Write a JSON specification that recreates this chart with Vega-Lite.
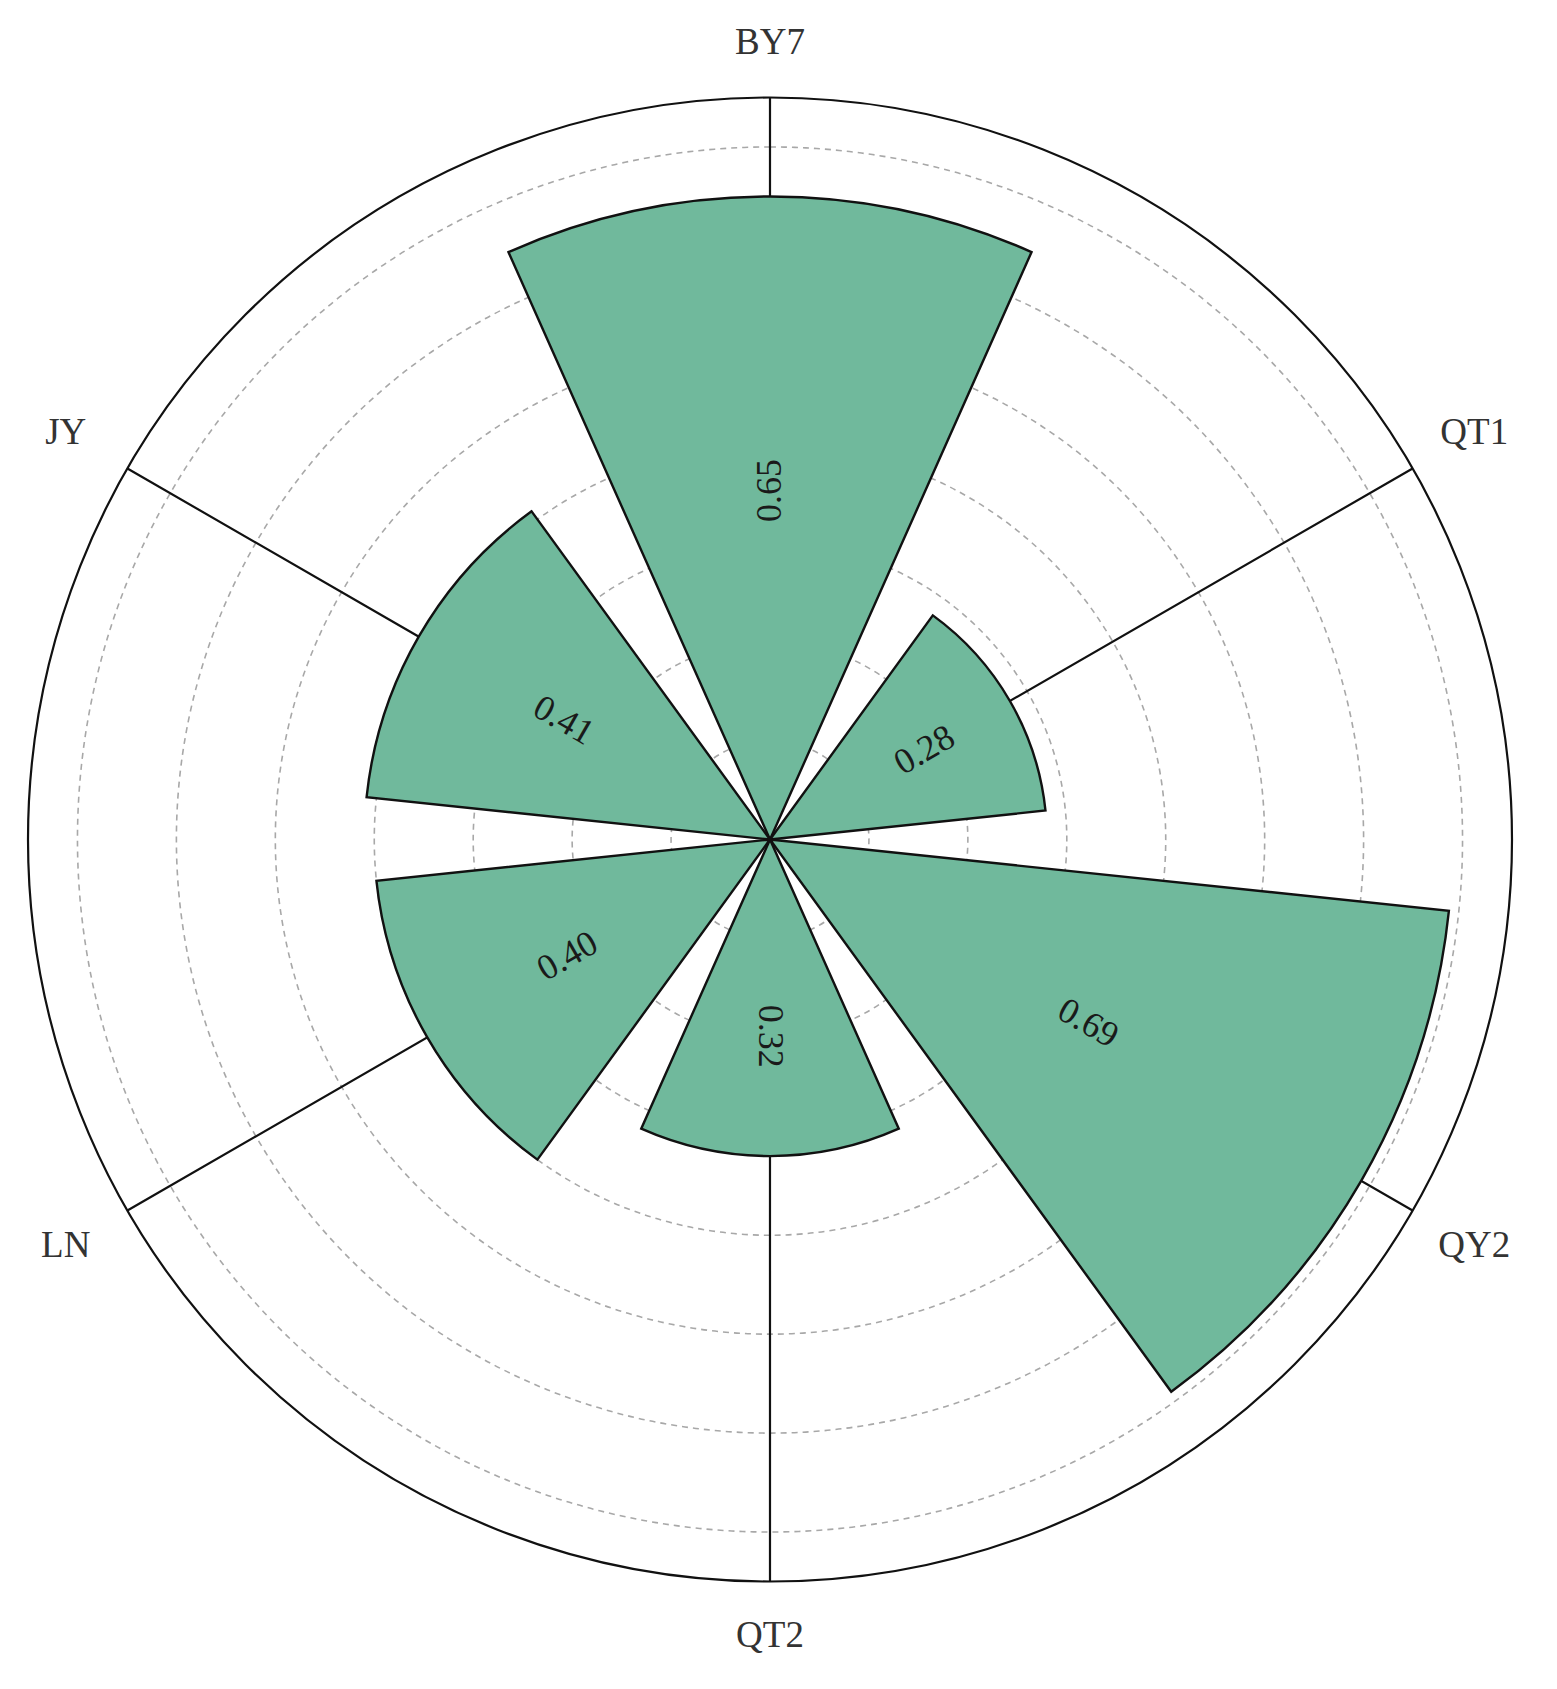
{
  "$schema": "https://vega.github.io/schema/vega-lite/v6.json",
  "width": 1540,
  "height": 1679,
  "padding": 0,
  "autosize": "none",
  "background": "white",
  "config": {"view": {"stroke": null}},
  "data": {"values": [
    {"cat": "BY7", "value": 0.65},
    {"cat": "QT1", "value": 0.28},
    {"cat": "QY2", "value": 0.69},
    {"cat": "QT2", "value": 0.32},
    {"cat": "LN", "value": 0.40},
    {"cat": "JY", "value": 0.41}
  ]},
  "resolve": {"scale": {"theta": "independent", "radius": "independent", "angle": "independent"}},
  "layer": [
    {
      "data": {"values": [{"level": 0.1}, {"level": 0.2}, {"level": 0.3}, {"level": 0.4}, {"level": 0.5}, {"level": 0.6}, {"level": 0.7}]},
      "mark": {"type": "arc", "theta": 0, "theta2": 6.2832, "filled": false, "stroke": "#a8a8a8", "strokeWidth": 1.6, "strokeDash": [6, 5]},
      "encoding": {
        "radius": {"field": "level", "type": "quantitative", "stack": null, "scale": {"type": "linear", "domain": [0, 0.75], "range": [0, 742], "zero": true, "nice": false}}
      }
    },
    {
      "mark": {"type": "arc", "filled": false, "stroke": "#111111", "strokeWidth": 2.2},
      "encoding": {
        "theta": {"field": "cat", "type": "nominal", "sort": null, "scale": {"type": "band", "domain": ["BY7", "QT1", "QY2", "QT2", "LN", "JY"], "range": [-0.5236, 5.7596], "paddingInner": 1, "paddingOuter": 0.5}},
        "radius": {"datum": 0.75, "scale": {"type": "linear", "domain": [0, 0.75], "range": [0, 742], "zero": true, "nice": false}}
      }
    },
    {
      "data": {"values": [{"level": 0.75}]},
      "mark": {"type": "arc", "theta": 0, "theta2": 6.2832, "filled": false, "stroke": "#111111", "strokeWidth": 2.2},
      "encoding": {
        "radius": {"field": "level", "type": "quantitative", "stack": null, "scale": {"type": "linear", "domain": [0, 0.75], "range": [0, 742], "zero": true, "nice": false}}
      }
    },
    {
      "mark": {"type": "arc", "fill": "#70b99c", "stroke": "#111111", "strokeWidth": 2.4, "strokeJoin": "miter"},
      "encoding": {
        "theta": {"field": "cat", "type": "nominal", "sort": null, "scale": {"type": "band", "domain": ["BY7", "QT1", "QY2", "QT2", "LN", "JY"], "range": [-0.5236, 5.7596], "paddingInner": 0.2, "paddingOuter": 0.1}},
        "radius": {"field": "value", "type": "quantitative", "stack": null, "scale": {"type": "linear", "domain": [0, 0.75], "range": [0, 742], "zero": true, "nice": false}}
      }
    },
    {
      "mark": {"type": "text", "font": "Liberation Serif", "fontSize": 36, "color": "#1a1a1a", "align": "center", "baseline": "middle"},
      "encoding": {
        "theta": {"field": "cat", "type": "nominal", "sort": null, "scale": {"type": "point", "domain": ["BY7", "QT1", "QY2", "QT2", "LN", "JY"], "range": [0, 5.236], "padding": 0}},
        "radius": {"field": "value", "type": "quantitative", "stack": null, "scale": {"type": "linear", "domain": [-0.107, 1.503], "range": [0, 742], "zero": false, "nice": false}},
        "angle": {"field": "cat", "type": "nominal", "legend": null, "scale": {"type": "ordinal", "domain": ["BY7", "QT1", "QY2", "QT2", "LN", "JY"], "range": [-90, -30, 30, 90, -30, 30]}},
        "text": {"field": "value", "type": "quantitative", "format": ".2f"}
      }
    },
    {
      "transform": [{"filter": {"field": "cat", "oneOf": ["BY7", "QT2"]}}],
      "mark": {"type": "text", "font": "Liberation Serif", "fontSize": 37, "color": "#333333", "align": "center", "baseline": "middle"},
      "encoding": {
        "theta": {"field": "cat", "type": "nominal", "sort": null, "scale": {"type": "point", "domain": ["BY7", "QT1", "QY2", "QT2", "LN", "JY"], "range": [0, 5.236], "padding": 0}},
        "radius": {"datum": 0.805, "scale": {"type": "linear", "domain": [0, 0.75], "range": [0, 742], "zero": true, "nice": false}},
        "text": {"field": "cat", "type": "nominal"}
      }
    },
    {
      "transform": [{"filter": {"field": "cat", "oneOf": ["QT1", "QY2", "LN", "JY"]}}],
      "mark": {"type": "text", "font": "Liberation Serif", "fontSize": 37, "color": "#333333", "align": "center", "baseline": "middle"},
      "encoding": {
        "theta": {"field": "cat", "type": "nominal", "sort": null, "scale": {"type": "point", "domain": ["BY7", "QT1", "QY2", "QT2", "LN", "JY"], "range": [0, 5.236], "padding": 0}},
        "radius": {"datum": 0.822, "scale": {"type": "linear", "domain": [0, 0.75], "range": [0, 742], "zero": true, "nice": false}},
        "text": {"field": "cat", "type": "nominal"}
      }
    }
  ]
}
